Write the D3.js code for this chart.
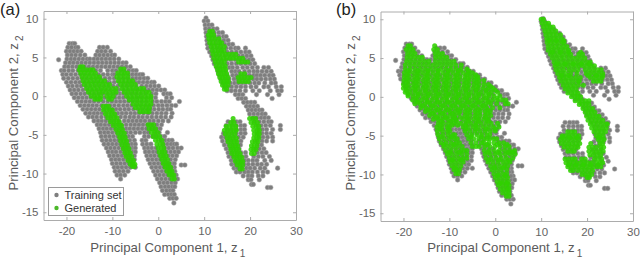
<!DOCTYPE html>
<html>
<head>
<meta charset="utf-8">
<script src="https://cdnjs.cloudflare.com/ajax/libs/d3/7.8.5/d3.min.js"></script>
<style>
    body { margin: 0; background: #fff; }
    text { font-family: "Liberation Sans", sans-serif; }
    .tick text { font-size: 11.5px; fill: #646464; }
    .axis-label { font-size: 13.2px; fill: #5a5a5a; }
    .panel-tag { font-size: 16.5px; fill: #222; }
</style>
</head>
<body>
<svg id="chart" width="640" height="259"></svg>
<script>
// each row: z2 first, then the z1 values at that height
const trainingLeft = [
    [6.8, -19.4, -18.7, -18.2],
    [6.3, -19.7, -18.9, -18, -17.5, -12.8, -12, -11.1],
    [5.8, -20, -19.2, -18.4, -17.6, -16.8, -13.2, -12.4, -11.5, -10.4],
    [5.3, -19.8, -18.9, -18, -17, -16, -13.6, -12.8, -11.9, -11, -10.1, -9.5],
    [4.8, -19.9, -19, -18.2, -17.3, -16.4, -15.5, -14.9, -14, -13.2, -12.3, -11.4, -10.5, -9.6, -8.6],
    [4.7, -21.7],
    [4.3, -20.2, -19.3, -18.5, -17.6, -16.7, -15.8, -14.9, -14, -13.1, -12.2, -11.3, -10.4, -9.5, -8.6, -7.7, -7],
    [3.8, -20.4, -19.6, -18.7, -17.8, -16.9, -16, -15.1, -14.2, -13.3, -12.4, -11.5, -10.6, -9.7, -8.8, -7.9, -7, -6.1],
    [3.3, -21.1, -20.5, -19.5, -18.6, -17.5, -16.5, -15.5, -14.6, -13.6, -12.6, -11, -10, -9.2, -8.2, -7.4, -6.4, -5.5, -4.8],
    [2.8, -20.8, -20, -19, -18, -17, -13, -12, -11, -10, -9.6, -6.4, -5.6, -4.8, -4, -3.4],
    [2.3, -20.6, -19.6, -18.6, -17.6, -11.6, -10.6, -9.6, -5.6, -4.8, -4, -3.1, -2.3],
    [1.8, -20, -19, -18, -17.1, -10.6, -9.6, -5, -4.2, -3.3, -2.4, -1.5, -0.9],
    [1.3, -19.6, -18.7, -17.7, -16.8, -3.6, -2.6, -1.7, -0.8, 0.1],
    [0.8, -19.2, -18.3, -17.4, -16.4, -8.6, -2.1, -1.2, -0.3, 0.6, 1.4],
    [0.3, -18.8, -17.9, -16.9, -16, -8.4, -7.6, -1.4, -0.5, 1.2, 2, 2.6],
    [-0.2, -18.3, -17.4, -16.5, -15.6, -14.7, -9.4, -8.5, -7.6, -1.5, -0.6, 1.8, 2.9],
    [-0.7, -17.6, -16.7, -15.8, -14.9, -14, -9.2, -8.3, -7.4, -6.5, -1.2, -0.3, 0.7, 1.6, 2.4, 4.6],
    [-1.2, -17, -16.1, -15.2, -14.3, -13.4, -9.6, -8.6, -7.6, -6.7, -5.8, -1, 0, 0.9, 1.9, 2.9, 3.8],
    [-1.7, -16.4, -15.5, -14.6, -13.7, -9.2, -8.3, -7.3, -6.4, -5.4, -0.9, 0.1, 1, 2, 2.7],
    [-2.2, -15.8, -14.9, -14, -13.2, -8.8, -7.9, -7, -6, -5.1, -4.2, -1.3, -0.3, 0.7, 1.7, 3],
    [-2.7, -15.2, -14.3, -13.4, -8.2, -7.2, -6.2, -5.3, -4.3, -3.4, -2.4, -1.4, -0.4, 0.6, 1.6, 2.8],
    [-3.2, -14, -13.1, -12.3, -7.4, -6.5, -5.6, -4.7, -3.8, -2.9, -1, 0, 1, 2.2],
    [-3.7, -13.3, -12.5, -11.6, -7, -6, -5.1, -4.2, -3.3, -0.3, 0.7],
    [-4.2, -12.9, -12, -11.2, -7, -6.2, -5.3, -4.4, -3.5, -0.1, 0.4],
    [-4.7, -12.6, -11.7, -10.9, -10, -6.9, -6, -5, -4, -3, -2.2, -0.6, 0.2, 2],
    [-5.2, -12.4, -11.5, -10.6, -9.7, -6.5, -5.6, -3, -2.1, -1.2, -0.4, 0.6, 1.4],
    [-5.7, -12.2, -11.3, -10.4, -9.5, -8.7, -6.2, -5.2, -3.5, -2.7, 0.6, 1.5, 2.3, 3],
    [-6.2, -11.8, -10.9, -10, -9.1, -8.3, -5.8, -5, -3.4, -2.5, -1.6, 1.2, 2, 2.8, 3.5, 4],
    [-6.7, -11.3, -10.4, -9.5, -8.6, -5.7, -5, -3, -2.2, -1.4, -0.5, 1.5, 2.3, 3.2, 4.2, 5],
    [-7.2, -10.9, -10, -9.2, -8.2, -5.5, -5, -2.8, -2, -1.1, -0.3, 1.8, 2.7, 3.6, 4.4],
    [-7.7, -10.6, -9.7, -8.8, -7.9, -5.2, -2.5, -1.6, -0.8, 0.1, 2.2, 3.1, 4],
    [-8.2, -10.2, -9.3, -8.5, -7.6, -5.2, -2.2, -1.3, -0.4, 0.4, 2.7, 3.7],
    [-8.7, -10, -9.1, -8.2, -7.3, -1.8, -0.9, 0, 0.8, 3.1, 3.5],
    [-8.9, 5, 5.8],
    [-9.2, -9.6, -8.8, -7.9, -7, -5, -1.4, -0.5, 0.4, 1.2, 3.5],
    [-9.7, -9.4, -8.5, -7.6, -6.6, -1, -0.1, 0.8, 1.6, 3.6],
    [-10.2, -9, -8.2, -7.3, -0.6, 0.3, 1.2, 2, 3.9],
    [-10.7, -8.2, -0.2, 0.7, 1.6, 2.5, 3.5, 4.2],
    [-11.2, 0.3, 1.2, 2, 2.9, 3.7],
    [-11.7, 0.6, 1.5, 2.3, 3.1, 3.6],
    [-12.2, 0.9, 1.8, 2.6, 3.2],
    [-12.7, 1.4, 2.2, 2.9, 3.5],
    [-13.2, 2.5, 3.2, 3.9],
    [-13.8, 3.4]
];

// the training points hidden under the green blobs of panel (a)
const trainingHidden = [
    [2.8, -16, -15, -14, -8.6, -7.6],
    [2.3, -16.6, -15.6, -14.6, -13.6, -12.6, -8.6, -7.6, -6.6],
    [1.8, -16.1, -15.1, -14.1, -13.1, -12.1, -11.1, -8.6, -7.6, -6.6, -5.8],
    [1.3, -15.8, -14.8, -13.8, -12.8, -11.8, -10.8, -9.8, -8.8, -7.8, -6.8, -5.8, -4.8],
    [0.8, -15.4, -14.4, -13.4, -12.4, -11.4, -10.4, -9.4, -7.6, -6.6, -5.6, -4.6, -3.6, -2.9],
    [0.3, -15, -14, -13, -12, -11, -10, -9.2, -6.8, -5.8, -4.8, -3.8, -2.8],
    [-0.2, -13.7, -12.7, -11.7, -10.6, -6.6, -5.6, -4.6, -3.6, -2.6],
    [-0.7, -13, -12, -11, -10.1, -5.6, -4.6, -3.6, -2.6],
    [-1.2, -12.4, -11.4, -10.5, -4.8, -3.8, -2.8, -1.9],
    [-1.7, -12.8, -11.8, -10.8, -10, -4.4, -3.4, -2.4, -1.7],
    [-2.2, -12.3, -11.3, -10.3, -9.6, -3.2, -2.2],
    [-2.7, -12.4, -11.4, -10.4, -9.3],
    [-3.2, -11.4, -10.5, -9.6, -8.6, -1.9],
    [-3.7, -10.7, -9.8, -8.9, -8, -2.4, -1.3],
    [-4.2, -10.3, -9.4, -8.5, -7.8, -2.6, -1.6, -0.9],
    [-4.7, -9.1, -8.2, -7.6],
    [-5.2, -8.8, -7.9, -7.2],
    [-5.7, -7.9, -7],
    [-6.2, -7.4, -6.6],
    [-6.7, -7.7, -6.8, -6.2],
    [-7.2, -7.3, -6.4, 0.9],
    [-7.7, -7, -6.2, 1.2],
    [-8.2, -6.7, -6, 1.6],
    [-8.7, -6.4, -5.8, 1.9, 2.4],
    [-9.2, -6.1, 2.2, 2.9],
    [-9.7, 2.4, 3],
    [-10.2, 2.9, 3.4],
    [3.2, 16.8, 17.6],
    [2.7, 17.8, 18.6, 19.2],
    [2.2, 17.2, 18, 18.8, 19.8],
    [1.7, 18.2],
    [-3.3, 15.2, 17, 17.8]
];

const trainingRight = [
    [10.1, 10.4],
    [9.7, 10, 10.8],
    [9.2, 10.2, 11, 11.7],
    [8.7, 10.3, 11.1, 12, 12.8],
    [8.2, 10.4, 11.3, 12.2, 13.2, 14],
    [7.7, 10.5, 11.4, 12.3, 13.2, 14.2, 14.8],
    [7.2, 10.6, 11.5, 12.5, 13.4, 14.3, 15.2],
    [6.7, 10.7, 11.6, 12.5, 13.5, 14.5, 15.4, 16.2],
    [6.2, 10.8, 11.8, 12.8, 13.8, 14.8, 15.8, 16.8, 17.4, 19],
    [5.7, 11.2, 12, 13, 14, 15, 16, 17, 18, 19, 19.8],
    [5.2, 11.6, 12.5, 13.4, 14.5, 15.6, 16.5, 17.5, 18.4, 19.3, 20.2],
    [4.7, 11.9, 12.8, 13.8, 14.8, 15.8, 16.8, 17.9, 18.9, 19.8, 20.6],
    [4.2, 12.2, 13.1, 14, 15, 16, 17, 18, 19, 20, 21],
    [3.7, 12.7, 13.5, 14.5, 15.5, 16.2, 17.2, 18.4, 19.4, 20.5, 21.6, 23, 24],
    [3.2, 13, 13.8, 14.7, 16, 18.8, 19.8, 20.8, 21.6, 22.6, 23.6, 24.6],
    [2.7, 13.3, 14.2, 15, 16.2, 17, 19.9, 20.8, 21.5, 22.3, 23.2, 24.2, 25],
    [2.2, 13.6, 14.5, 15.4, 16.5, 20.7, 21.5, 22.4, 23.4, 24.4, 25.3],
    [1.7, 14, 14.8, 15.7, 16.6, 17.4, 19, 20, 21, 21.9, 23.2, 24.6, 25.5],
    [1.2, 14.4, 15.2, 16, 17, 18, 19, 20.2, 21.3, 23, 24, 25.7, 26.8],
    [0.7, 15, 15.9, 16.8, 17.8, 19, 20.6, 22, 24.4, 26, 26.8],
    [0.2, 16.8, 17.6, 18.4, 21.4, 23.8, 26.3],
    [-0.3, 17.4, 18.2, 19, 24.8],
    [-0.8, 18.6, 19.4, 20.2, 21],
    [-1.3, 19.2, 20, 20.8, 21.6],
    [-1.8, 19.6, 20.4, 21.2, 22, 22.6],
    [-2.3, 19.9, 20.8, 21.7, 22.6, 23.3],
    [-2.8, 20.6, 21.5, 22.4, 23.2, 24],
    [-3.3, 16.2, 21, 22, 23, 24, 24.6],
    [-3.8, 14.8, 16, 17, 18, 18.8, 21.6, 22.4, 23.4, 24.4, 26.6],
    [-4.3, 15, 16, 17, 18, 18.8, 21.8, 22.7, 23.6, 24.9, 26.6],
    [-4.8, 14.2, 15, 16, 17, 18, 18.9, 21.7, 22.6, 23.6, 24.6],
    [-5.3, 13.8, 14.6, 15.5, 16.5, 17.5, 18.5, 21.9, 22.8, 23.8, 24.9],
    [-5.8, 14, 15, 16, 17, 18, 21.5, 22.6, 23.6, 24.9],
    [-6.3, 14.4, 15.3, 16.2, 17.2, 17.9, 21.8, 22.5],
    [-6.8, 14.8, 15.7, 16.6, 17.6, 21.2, 22, 23],
    [-7.3, 15.2, 16, 17, 18, 19, 21.6, 22.6, 23.5],
    [-7.8, 15.4, 16.2, 17.2, 18.2, 19.1, 20.8, 21.8, 22.8, 24.2],
    [-8.3, 15.9, 16.8, 17.8, 18.8, 19.6, 20.6, 21.5, 23.2, 24.6],
    [-8.8, 16, 16.8, 17.7, 18.7, 19.6, 20.6, 21.6, 22.5, 23.6],
    [-9.3, 16.5, 17.2, 18.2, 19.2, 20, 21, 22.2, 23.2, 26],
    [-9.8, 17, 17.8, 18.8, 19.6, 20.5, 21.6, 22.8, 23.8],
    [-10.3, 18.5, 19.6, 20.4, 21.8, 22.8],
    [-10.8, 19.6, 20.2, 22],
    [-11.4, 20.3, 20.7],
    [-11.8, 23.8, 24.5]
];

const generatedA = [
    [3.8, -17, -16.4],
    [3.4, -17.2, -16.4, -15.6, -14.8, -14.2],
    [3, -16.9, -16.1, -15.3, -14.5, -13.7],
    [2.5, -16.6, -15.8, -15, -14.2, -13.4, -12.8],
    [2, -16.4, -15.6, -14.8, -14, -13.2, -12.4, -11.7],
    [1.5, -16.1, -15.3, -14.5, -13.7, -12.9, -12.1, -11.3, -10.6],
    [1, -15.6, -14.8, -14, -13.2, -12.4, -11.6, -10.8, -10, -9.2],
    [0.5, -15.2, -14.4, -13.6, -12.8, -12.2, -11.4, -10.6, -9.8, -9.2],
    [0, -14.6, -13.9, -13.2, -12.5, -11.2, -10.5, -9.8],
    [-0.4, -13.8, -13.2, -12.6, -10.8, -10.2],
    [3.5, -8.2, -7.5],
    [3, -8.8, -8, -7.3, -6.7],
    [2.5, -9, -8.2, -7.4, -6.6],
    [2, -8.7, -7.9, -7.1, -6.3, -5.6],
    [1.5, -8.2, -7.4, -6.6, -5.8, -5],
    [1, -7.9, -7.1, -6.3, -5.5, -4.7, -3.9, -3.2],
    [0.5, -7.4, -6.6, -5.8, -5, -4.2, -3.4, -2.6, -2],
    [0, -6.9, -6.1, -5.3, -4.5, -3.7, -2.9, -2.1, -1.6],
    [-0.5, -6.3, -5.5, -4.7, -3.9, -3.1, -2.3, -1.6],
    [-1, -5.5, -4.7, -3.9, -3.1, -2.3, -1.6],
    [-1.5, -5, -4.2, -3.4, -2.6, -1.9],
    [-2, -4, -3.3, -2.5, -2],
    [-1.3, -12, -11.3, -10.8],
    [-1.8, -11.9, -11.2, -10.5, -10],
    [-2.3, -11.5, -10.8, -10.1, -9.5],
    [-2.8, -11, -10.3, -9.6, -9],
    [-3.3, -10.4, -9.7, -9, -8.5],
    [-3.8, -9.8, -9.1, -8.4, -8],
    [-4.3, -9.2, -8.5, -7.8],
    [-4.8, -8.8, -8.1, -7.4],
    [-5.3, -8.4, -7.8, -7.2],
    [-5.8, -8.2, -7.5, -6.9],
    [-6.3, -7.9, -7.2, -6.7],
    [-6.8, -7.6, -7, -6.4],
    [-7.3, -7.3, -6.7, -6.1],
    [-7.8, -7, -6.4, -5.8],
    [-8.3, -6.6, -6, -5.4],
    [-8.8, -6.1, -5.5, -5.1],
    [-9.1, -5.6, -5.2],
    [-3.7, -2.2, -1.6, -1],
    [-4.2, -2, -1.3, -0.6],
    [-4.7, -1.5, -0.8, -0.1],
    [-5.2, -1.1, -0.4, 0.3],
    [-5.7, -0.6, 0.1, 0.8],
    [-6.2, -0.3, 0.4, 1],
    [-6.7, 0, 0.6, 1.2],
    [-7.2, 0.2, 0.8, 1.4],
    [-7.7, 0.5, 1.1, 1.7],
    [-8.2, 0.8, 1.4, 2],
    [-8.7, 1.1, 1.7, 2.3],
    [-9.2, 1.5, 2.1, 2.7],
    [-9.7, 1.9, 2.5, 3],
    [-10.2, 2.4, 3, 3.4],
    [-10.7, 3, 3.5],
    [8.4, 11.2, 11.8],
    [7.9, 10.9, 11.5, 12.1],
    [7.4, 11, 11.7, 12.4, 13.2],
    [6.9, 11.2, 11.9, 12.6, 13.4, 13.8],
    [6.4, 11.5, 12.2, 12.9, 13.6, 14.4],
    [5.9, 11.7, 12.4, 13.1, 13.7, 14.3],
    [5.4, 11.9, 12.6, 13.3, 14, 14.7, 15.4, 16.2, 16.9],
    [4.9, 12.1, 12.8, 13.5, 14.2, 14.9, 15.6, 16.3, 17, 17.7, 18.4],
    [4.4, 12.4, 13.1, 13.8, 14.4, 17.5, 18.2, 18.9, 19.5],
    [3.9, 12.6, 13.3, 14, 14.6],
    [3.4, 12.9, 13.5, 14.1, 14.7],
    [2.9, 13.1, 13.7, 14.3, 14.9, 18, 18.8],
    [2.4, 13.4, 14, 14.6, 15.2, 17.4, 18.1, 18.8, 19.5, 20.2],
    [1.9, 13.7, 14.3, 14.9, 15.3, 17.6, 18.3, 19, 19.6],
    [1.4, 14, 14.6, 15.2],
    [0.9, 14.4, 14.9],
    [-2.9, 16.3, 19.9, 20.6, 21.2],
    [-3.4, 15.8, 16.5, 20.2, 20.9, 21.6],
    [-3.9, 14.8, 15.5, 16.2, 16.9, 20.6, 21.3, 21.9],
    [-4.4, 14.4, 15.1, 15.8, 16.5, 17, 20.8, 21.5, 22],
    [-4.9, 14.6, 15.3, 16, 16.7, 20.9, 21.5, 22],
    [-5.4, 15, 15.6, 16.3, 17, 20.8, 21.4, 21.9],
    [-5.9, 15.2, 15.9, 16.5, 17.1, 20.5, 21.1, 21.7],
    [-6.4, 15.6, 16.2, 16.8, 17.3, 20.3, 20.9, 21.5],
    [-6.9, 15.8, 16.4, 17, 17.5, 20.2, 20.8, 21.3],
    [-7.4, 16, 16.6, 17.2, 17.8, 20.3, 20.9],
    [-7.9, 16.5, 17.1, 17.7, 18.2],
    [-8.4, 16.8, 17.4, 18, 18.4],
    [-8.9, 17.2, 17.8, 18.4],
    [-9.4, 17.8, 18.3]
];

const generatedB = [
    [6.6, -19, -18.5, -13.2],
    [6.1, -19.4, -18.6, -17.9, -13.4, -12.6],
    [5.6, -19.1, -18.3, -17.5, -13.1, -12.3, -11.5],
    [5.1, -19.2, -18.4, -17.6, -16.7, -15.9, -13, -12.2, -11.4, -10.6],
    [4.6, -19.3, -18.4, -17.4, -16.4, -15.4, -14.5, -13, -12, -11, -10, -9],
    [4.1, -19.6, -18.6, -17.6, -16.6, -15.6, -14.6, -13.6, -12.6, -11.6, -10.6, -9.6, -8.6, -7.4],
    [3.6, -19.6, -18.5, -17.4, -16.3, -15.2, -14.1, -13, -11.9, -10.8, -9.7, -8.6, -7.5, -6.2],
    [3.1, -19.8, -18.8, -17.8, -16.8, -15.8, -14.7, -13.6, -12.5, -11.4, -10.3, -9.2, -8.1, -7, -5.9, -5],
    [2.6, -19.8, -18.7, -17.6, -16.5, -15.4, -14.3, -13.2, -12.1, -11, -9.9, -8.8, -7.7, -6.6, -5.5, -4.5, -3.8],
    [2.1, -19.9, -18.9, -17.9, -16.8, -15.7, -14.6, -13.5, -12.4, -11.3, -10.2, -9.1, -8, -6.9, -5.8, -4.7, -3.6, -2.5],
    [1.6, -20, -18.9, -17.8, -16.7, -15.6, -14.5, -13.4, -12.3, -11.2, -10.1, -9, -7.9, -6.8, -5.7, -4.6, -3.5, -2.4, -1.5],
    [1.1, -20, -19, -18, -16.9, -15.8, -14.7, -13.6, -12.5, -11.4, -10.3, -9.2, -8.1, -7, -5.9, -4.8, -3.7, -2.6, -1.5, -0.5],
    [0.6, -19.6, -18.5, -17.4, -16.3, -15.2, -14.1, -13, -11.9, -10.8, -9.7, -8.6, -7.5, -6.4, -5.3, -4.2, -3.1, -2, -0.9, 0.5],
    [0.1, -19, -17.9, -16.8, -15.7, -14.6, -13.5, -12.4, -11.3, -10.2, -9.1, -8, -6.9, -5.8, -4.7, -3.6, -2.5, -1.4, -0.3, 1],
    [-0.4, -18, -17, -16, -14.9, -13.8, -12.7, -11.6, -10.5, -9.4, -8.3, -7.2, -6.1, -5, -3.9, -2.8, -1.7, -0.6, 0.5, 1.5, 2.3],
    [-0.9, -17.5, -16.4, -15.3, -14.2, -13.1, -12, -10.9, -9.8, -8.7, -7.6, -6.5, -5.4, -4.3, -3.2, -2.1, -1, 0.3, 2.2, 2.8],
    [-1.4, -16.2, -15.1, -14, -12.9, -11.8, -10.7, -9.6, -8.5, -7.4, -6.3, -5.2, -4.1, -3, -1.9, -0.6, 1],
    [-1.9, -15.2, -14.2, -13.2, -12.1, -11, -9.9, -8.8, -7.7, -6.6, -5.5, -4.4, -3.3, -2.2, -1.1],
    [-2.4, -14.3, -13.2, -12.1, -11, -9.9, -8.8, -6.6, -5.5, -4.4, -3.3, -2.2, -1],
    [-2.9, -13.5, -12.5, -11.5, -10.4, -9.3, -8.6, -6.9, -5.8, -4.7, -3.6, -2.5, -1.5],
    [-3.4, -12.4, -11.3, -10.2, -9, -7.5, -6.4, -5.3, -4.2, -3.1, -2, -0.9, 0.5],
    [-3.9, -12.7, -11.6, -10.5, -10, -7, -5.9, -4.8, -3.7, -2.6, -1.5, -0.4, 0.8],
    [-4.4, -12.6, -11.5, -10.4, -9.9, -6.6, -5.5, -4.4, -3.3, -2.2, -1.1, 0],
    [-4.9, -12.5, -11.4, -10.3, -9.2, -8.8, -6.2, -5.1, -4, -2.9, -1.8, -1.2],
    [-5.4, -12.2, -11.1, -10, -8.9, -8.3, -5.8, -4.7, -3.6, -2.5, -1.8, -1.2, -0.3, 0.3],
    [-5.9, -11.8, -10.7, -9.6, -8.5, -7.8, -5.3, -4.2, -3, -2.5, -1.4, -0.3, 0.8, 1.8],
    [-6.4, -11.2, -10.2, -9.2, -8.2, -7.2, -5, -4.2, -3.5, -2.3, -1.2, -0.1, 1, 2.1, 3],
    [-6.9, -10.8, -9.7, -8.6, -7.5, -6.8, -6.2, -2.4, -1.3, -0.2, 0.9, 2, 3.1, 4.2],
    [-7.4, -10.4, -9.4, -8.4, -7.3, -6.2, -2.2, -1.1, 0, 1.1, 2.2, 3.3, 4.3],
    [-7.9, -10, -9, -8, -7, -6.2, -2, -0.9, 0.2, 1.3, 2.4, 3.8],
    [-8.4, -9.8, -8.9, -8, -7, -1.6, -0.5, 0.6, 1.7, 2.5, 3.2],
    [-8.9, -9.4, -8.5, -7.5, -1, 0, 1, 2, 2.7],
    [-9.4, -9, -8.4, -7.8, -0.7, 0.3, 1.3, 2.5],
    [-9.9, -8.6, -8, -0.3, 0.7, 1.7, 2.5],
    [-10.4, 0, 0.9, 1.8, 2.7],
    [-10.9, 0.4, 1.3, 2.1, 2.8],
    [-11.4, 0.7, 1.6, 2.4, 3],
    [-11.9, 1.1, 1.9, 2.6, 3],
    [-12.4, 1.6, 2.4, 3],
    [-12.8, 2.4, 3],
    [10, 10, 10.5],
    [9.5, 10.2, 11, 11.6],
    [9, 10.5, 11.3, 12, 12.6],
    [8.5, 10.8, 11.6, 12.4, 13.2],
    [8, 11, 11.8, 12.6, 13.4, 14.2],
    [7.5, 11.2, 12, 12.8, 13.6, 14.5],
    [7, 11.3, 12.1, 12.9, 13.7, 14.6, 15],
    [6.5, 11.5, 12.3, 13.1, 13.9, 14.8, 15.6],
    [6, 11.5, 12.4, 13.3, 14.2, 15.1, 16],
    [5.5, 12, 12.9, 13.8, 14.7, 15.6, 16.4, 18.2, 19],
    [5, 12.4, 13.3, 14.2, 15, 16, 16.9, 17.8, 18.7, 19.5],
    [4.5, 12.8, 13.6, 14.5, 15.4, 16.3, 17.2, 18.1, 19, 19.9, 20.7],
    [4, 13, 13.9, 14.8, 15.7, 16.6, 17.5, 18.2, 19.1, 20, 20.9, 21.6],
    [3.5, 13.2, 14, 14.9, 16, 17, 18, 19.6, 20.5, 21.4, 22.3, 23.1],
    [3, 13.6, 14.4, 15.3, 16.4, 17.8, 19.8, 20.7, 21.6, 22.5, 23.4],
    [2.5, 14, 14.8, 15.6, 16.5, 17.5, 18.5, 20.7, 21.6, 22.5, 23.3],
    [2, 14.3, 15.2, 16, 17, 18, 18.3, 21.4, 22.2, 23],
    [1.5, 14.8, 15.6, 16.4, 17.2, 18.1, 19.2],
    [1, 15.2, 16, 16.8, 17.6],
    [0.5, 15.8, 16.6, 17.4, 18],
    [0, 16.6, 17.4, 18, 18.6],
    [-0.5, 17.4, 18.2, 18.9, 19.6, 20.4],
    [-1, 18.3, 19, 19.7, 20.4],
    [-1.5, 19.1, 19.8, 20.5, 21.2],
    [-2, 19.6, 20.3, 21, 21.7],
    [-2.5, 19.9, 20.6, 21.3, 22, 22.6],
    [-3, 20.2, 21, 21.8, 22.6, 23.4],
    [-3.5, 20.7, 21.5, 22.3, 23.2, 24.1, 24.4],
    [-4, 21, 21.8, 22.6, 23.4, 24.2],
    [-4.5, 15.8, 16.6, 17.3, 21.5, 22.4, 23.2, 24],
    [-5, 14.6, 15.3, 16, 16.8, 17.6, 18.2, 22, 22.8, 23.5],
    [-5.5, 14.2, 15, 15.8, 16.6, 17.4, 18.2, 22.4, 23.2, 23.7],
    [-6, 14.4, 15.2, 16, 16.8, 17.6, 18.4, 20.8, 22.8, 23.4],
    [-6.5, 15, 15.8, 16.6, 17.4, 18, 20.4, 21.2, 22, 23, 23.6],
    [-7, 15.8, 16.6, 17.2, 20.4, 21.2, 22, 22.8, 23.5],
    [-7.5, 20.6, 21.4, 22.2, 23],
    [-8, 15.2, 16, 16.8, 17.4, 18.8, 19.6, 21.6, 22.4, 23.2],
    [-8.5, 15.4, 16.2, 17, 17.8, 18.6, 19.4, 20.2, 21, 22, 22.8, 23.4],
    [-9, 15.8, 16.6, 17.4, 18.2, 19, 19.8, 20.6, 21.4, 22.2, 23],
    [-9.5, 16.4, 17, 18, 18.8, 19.6, 20.4, 21.2],
    [-10, 18.9, 19.6, 20.4, 21],
    [-10.4, 20, 20.5]
];

// more generated points of panel (b), between the rows above
const generatedBExtra = [
    [3.35, -19, -16.9, -14.7, -12.4, -10.2, -8, -5.8],
    [2.85, -19.2, -17, -14.9, -12.7, -10.6, -8.4, -6.2, -4.3],
    [2.35, -19.3, -17.1, -14.9, -12.7, -10.5, -8.3, -6, -3.9],
    [1.85, -19.4, -17.3, -15.1, -12.9, -10.7, -8.5, -6.3, -4.1],
    [1.35, -19.5, -17.4, -15.2, -12.9, -10.7, -8.4, -6.2, -4, -1],
    [0.85, -19.4, -17.4, -15.2, -13, -10.8, -8.6, -6.4, -4.2, -2, 0],
    [0.35, -19, -16.8, -14.6, -12.4, -10.2, -8, -5.8, -3.6, -1.4],
    [-0.15, -17.4, -15.2, -13, -10.8, -8.6, -6.4, -4.2, -2, 0.4],
    [-0.65, -16.9, -14.7, -12.5, -10.3, -8.1, -5.9, -3.7, -1.5],
    [-1.15, -15.8, -13.6, -11.4, -9.2, -7, -4.8, -2.6],
    [-1.65, -14.7, -12.5, -10.3, -8.1, -5.9, -3.7, -1.6],
    [-2.15, -13.7, -11.5, -9.4, -7.9, -6.1, -3.9, -1.7],
    [-2.65, -12.8, -10.8, -8.9, -7.6, -6.2, -4.1, -2],
    [-3.15, -11.8, -9.7, -8.4, -5.9, -3.7, -1.5],
    [-3.65, -12, -9.4, -8.2, -6.5, -4.3],
    [-4.15, -12, -10.2, -6.4, -4.2, -2, 0],
    [-5.15, -11.8, -9.6, -5.3, -3.1],
    [-6.15, -11.2, -9, -1.8, 0.4, 2.6],
    [-7.15, -10, -7.8, -1.6, 0.6, 2.8, 3.8],
    [-8.15, -9.4, -7.4, -1.4, 0.8, 3],
    [-9.15, -8.9, -0.2, 1.8],
    [-10.15, 0.5, 2.2],
    [-11.15, 1.1, 2.5],
    [7.25, 11.7, 13.3, 14.9],
    [5.75, 12.4, 14.2, 16, 18.6],
    [4.25, 13.4, 15.2, 17, 18.7, 20.5],
    [2.75, 14.4, 16, 20.2, 22, 23.4],
    [-5.25, 14.6, 16.2, 17.8, 22.6],
    [-8.75, 16, 17.6, 19.2, 20.8, 22.4]
];

const xTicks = [-20, -10, 0, 10, 20, 30];
const yTicks = [-15, -10, -5, 0, 5, 10];
const xDomain = [-25, 30];
const yDomain = [-16, 11];
const legendNames = ["Training set", "Generated"];

const gray = "#7e7e7e";
const green = "#30d000";

const toPoints = rows => rows.flatMap(([y, ...xs]) => xs.map(x => ({x, y})));
const training = toPoints(trainingLeft.concat(trainingHidden, trainingRight));

const svg = d3.select("#chart");

function drawPanel(opts) {
    const x = d3.scaleLinear().domain(xDomain).range([opts.left, opts.right]);
    const y = d3.scaleLinear().domain(yDomain).range([opts.bottom, opts.top]);
    const g = svg.append("g");

    const marks = g.append("g");
    marks.selectAll("circle.train")
        .data(training)
        .enter().append("circle")
        .attr("class", "train")
        .attr("cx", d => x(d.x))
        .attr("cy", d => y(d.y))
        .attr("r", 2.3)
        .attr("fill", gray)
        .attr("stroke", "#a4a4a4")
        .attr("stroke-width", 0.5);
    marks.selectAll("circle.gen")
        .data(toPoints(opts.generated))
        .enter().append("circle")
        .attr("class", "gen")
        .attr("cx", d => x(d.x))
        .attr("cy", d => y(d.y))
        .attr("r", 2.5)
        .attr("fill", green)
        .attr("fill-opacity", 0.88);

    // MATLAB style box: ticks point inwards on all four sides
    const axes = [
        [d3.axisBottom(x).tickValues(xTicks).tickSize(-3).tickPadding(7), 0, opts.bottom, true],
        [d3.axisTop(x).tickValues(xTicks).tickSize(-3), 0, opts.top, false],
        [d3.axisLeft(y).tickValues(yTicks).tickSize(-3).tickPadding(5), opts.left, 0, true],
        [d3.axisRight(y).tickValues(yTicks).tickSize(-3), opts.right, 0, false]
    ];
    axes.forEach(([axis, tx, ty, labelled]) => {
        const a = g.append("g")
            .attr("transform", `translate(${tx},${ty})`)
            .call(axis.tickSizeOuter(0));
        a.selectAll("path, line").attr("stroke", "#acacac");
        if (!labelled) a.selectAll("text").remove();
    });
    g.selectAll(".tick text").text(function() { return this.textContent.replace("\u2212", "-"); });

    const xl = g.append("text").attr("class", "axis-label")
        .attr("x", (opts.left + opts.right) / 2 - 2)
        .attr("y", 252)
        .attr("text-anchor", "middle");
    xl.append("tspan").text("Principal Component 1, z");
    xl.append("tspan").attr("dy", 5).attr("dx", 2).attr("font-size", 10).text("1");

    const yl = g.append("text").attr("class", "axis-label")
        .attr("transform", `translate(${opts.left - 26},113) rotate(-90)`)
        .attr("text-anchor", "middle");
    yl.append("tspan").text("Principal Component 2, z");
    yl.append("tspan").attr("dy", 5).attr("dx", 2).attr("font-size", 10).text("2");

    svg.append("text").attr("class", "panel-tag")
        .attr("x", opts.tagX).attr("y", 14.5).text(opts.tag);
}

drawPanel({left: 43.5, right: 296, top: 11, bottom: 220, generated: generatedA, tag: "(a)", tagX: 0});
drawPanel({left: 380.5, right: 633, top: 11.5, bottom: 221, generated: generatedB.concat(generatedBExtra), tag: "(b)", tagX: 336});

// legend of panel (a)
const legend = svg.append("g").attr("transform", "translate(48.5,187.5)");
legend.append("rect")
    .attr("width", 75).attr("height", 28)
    .attr("fill", "#fff").attr("stroke", "#9a9a9a");
legendNames.forEach((name, i) => {
    const row = legend.append("g").attr("transform", `translate(8,${7.5 + i * 13})`);
    row.append("circle").attr("r", 2.2).attr("fill", i ? "#4cb82a" : gray);
    row.append("text").attr("x", 8).attr("y", 4).attr("font-size", 11).attr("fill", "#333").text(name);
});
</script>
</body>
</html>
